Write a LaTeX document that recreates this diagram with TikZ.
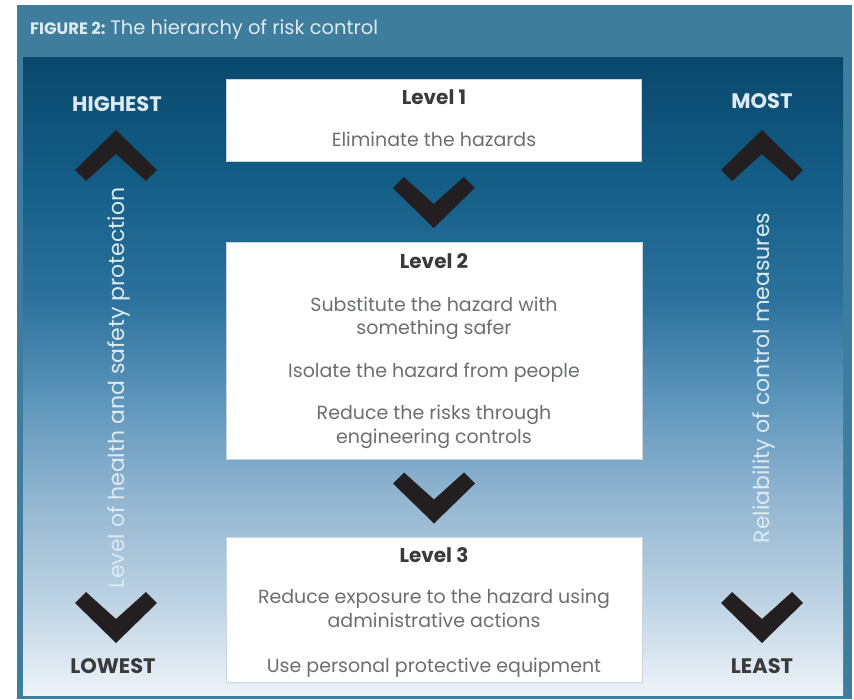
\documentclass[tikz,border=0pt]{standalone}
\usepackage{fontspec}
\setmainfont{Poppins}
\usetikzlibrary{calc}
\definecolor{hdr}{HTML}{3F7D9D}
\definecolor{cA}{HTML}{EEF3F8}
\definecolor{cB}{HTML}{BCD2E3}
\definecolor{cC}{HTML}{93B6D1}
\definecolor{cD}{HTML}{5D95BB}
\definecolor{cE}{HTML}{2C729C}
\definecolor{cF}{HTML}{135D86}
\definecolor{cG}{HTML}{0A486D}
\definecolor{chevc}{HTML}{231F20}
\definecolor{headc}{HTML}{3A3A3A}
\definecolor{bodyc}{HTML}{6D6E71}
\definecolor{lightc}{HTML}{DDEAF2}
\definecolor{boxline}{HTML}{C9D5DD}
\pgfdeclareverticalshading{panelshade}{100bp}{color(0bp)=(cA); color(25bp)=(cA); color(32.5bp)=(cB); color(40.3bp)=(cC); color(48.2bp)=(cD); color(56bp)=(cE); color(65.5bp)=(cF); color(75bp)=(cG); color(100bp)=(cG)}
\tikzset{
  levelbox/.style={draw=boxline, line width=1pt, fill=white, inner sep=0pt},
  headtxt/.style={anchor=base, text=headc, font=\fontsize{20}{22}\selectfont\bfseries},
  bodytxt/.style={anchor=base, text=bodyc, font=\fontsize{19}{22}\selectfont},
  sidehi/.style={anchor=base, text=lightc, font=\fontsize{21}{23}\selectfont\bfseries},
  sidelo/.style={anchor=base, text=headc, font=\fontsize{21}{23}\selectfont\bfseries},
  sidevert/.style={anchor=base, rotate=90, text=lightc, font=\fontsize{22}{24}\selectfont},
  chevdown/.pic={\fill[chevc] (-30,-25.5) -- (0,1.5) -- (30,-25.5) -- (41,-14.5) -- (0,25.5) -- (-41,-14.5) -- cycle;},
  chevup/.pic={\fill[chevc] (0,-25.5) -- (41,14.5) -- (30,25.5) -- (0,-1.5) -- (-30,25.5) -- (-41,14.5) -- cycle;}
}
\begin{document}
\begin{tikzpicture}[x=1pt,y=-1pt]
\useasboundingbox (0,0) rectangle (854,700);
\fill[white] (0,0) rectangle (854,700);
\fill[hdr] (17,5) rectangle (852,699);
\shade[shading=panelshade] (23,58) rectangle (843,695);
% header
\node[anchor=base west, inner sep=0pt, text=lightc] (title) at (30,35)
  {\fontsize{16.5}{18}\selectfont\bfseries FIGURE 2: \fontsize{19.5}{21}\selectfont\mdseries The hierarchy of risk control};
% boxes
\node[levelbox, minimum width=415, minimum height=82] (l1) at (433.5,121) {};
\node[levelbox, minimum width=416, minimum height=216] (l2) at (434,351) {};
\node[levelbox, minimum width=416, minimum height=145] (l3) at (434,609.5) {};
% level 1 text
\node[headtxt] (h1) at (434,105) {Level 1};
\node[bodytxt] (b1a) at (434,147) {Eliminate the hazards};
% level 2 text
\node[headtxt] (h2) at (434,269) {Level 2};
\node[bodytxt] (b2a) at (434,312) {Substitute the hazard with};
\node[bodytxt] (b2b) at (434,335) {something safer};
\node[bodytxt] (b2c) at (434,378) {Isolate the hazard from people};
\node[bodytxt] (b2d) at (434,420) {Reduce the risks through};
\node[bodytxt] (b2e) at (434,443) {engineering controls};
% level 3 text
\node[headtxt] (h3) at (434,562) {Level 3};
\node[bodytxt] (b3a) at (434,603) {Reduce exposure to the hazard using};
\node[bodytxt] (b3b) at (434,627) {administrative actions};
\node[bodytxt] (b3c) at (434,672) {Use personal protective equipment};
% chevrons between boxes
\pic at ($(l1.south)!0.5!(l2.north)$) {chevdown};
\pic at ($(l2.south)!0.5!(l3.north)$) {chevdown};
% left side
\node[sidehi] (highest) at (117,112) {HIGHEST};
\pic at (116,155.5) {chevup};
\node[sidevert] (lefttxt) at (124,388) {Level of health and safety protection};
\pic at (116,617.5) {chevdown};
\node[sidelo] (lowest) at (113,673) {LOWEST};
% right side
\node[sidehi] (most) at (762,109) {MOST};
\pic at (762,155.5) {chevup};
\node[sidevert] (righttxt) at (769,378) {Reliability of control measures};
\pic at (762,617.5) {chevdown};
\node[sidelo] (least) at (762,673) {LEAST};
\end{tikzpicture}
\end{document}
